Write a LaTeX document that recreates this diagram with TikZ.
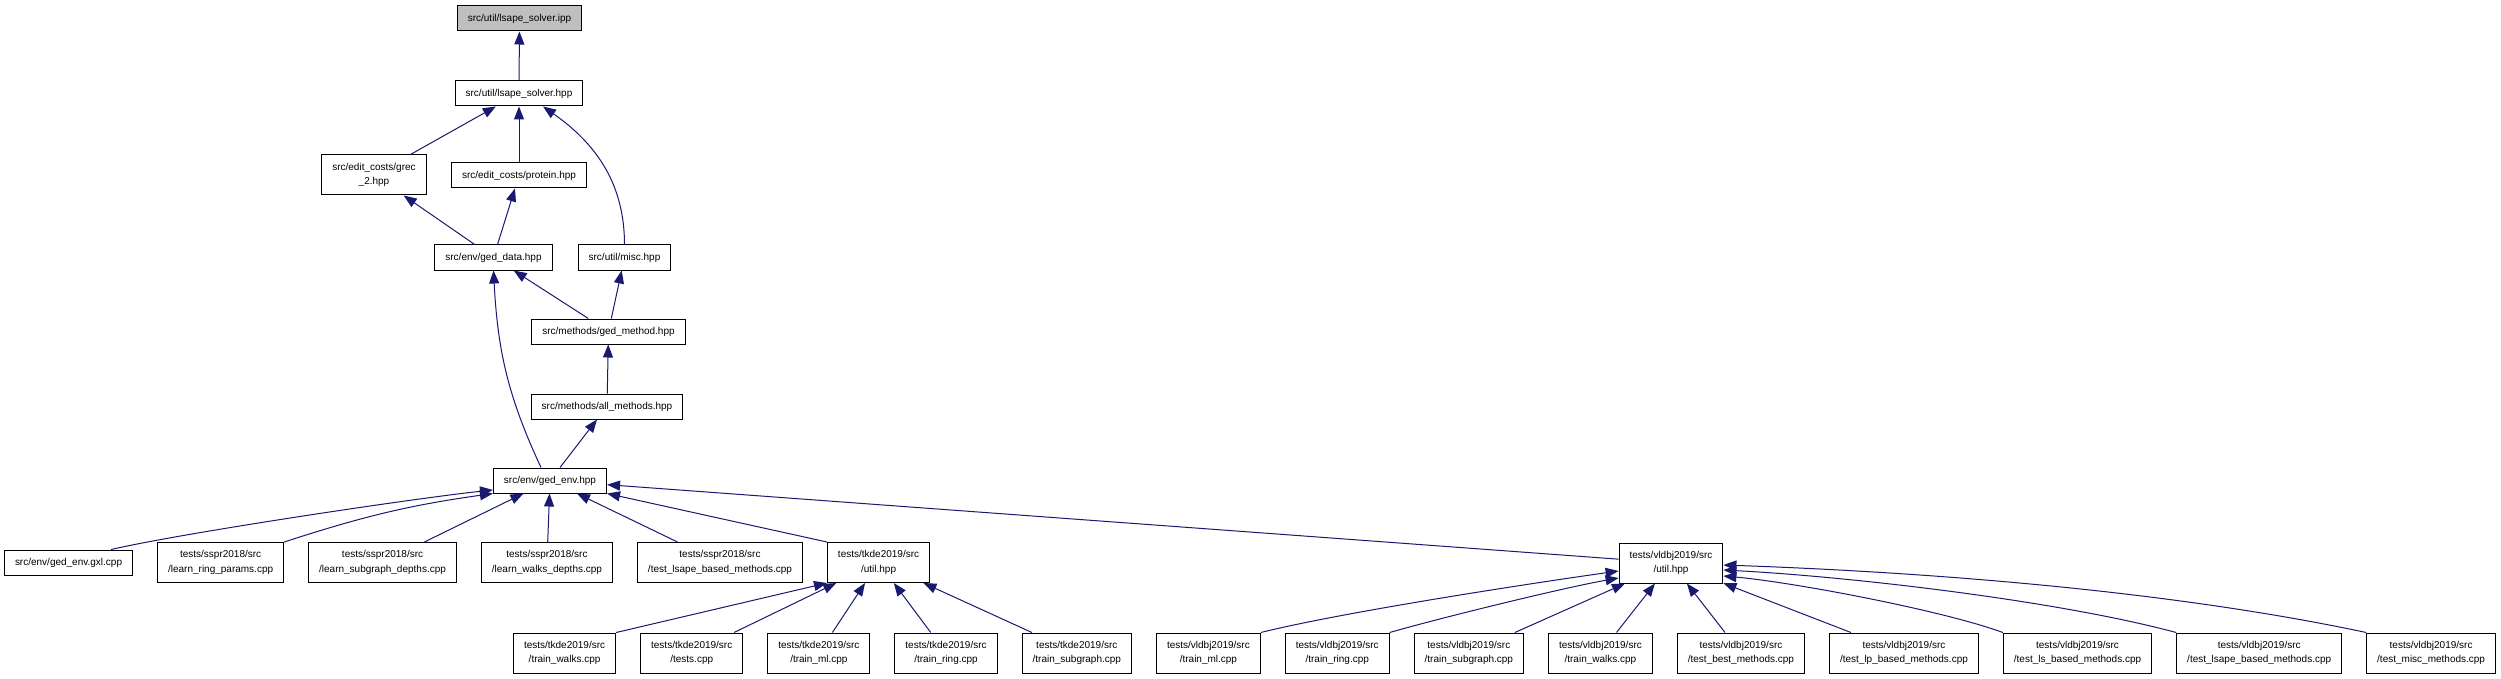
\documentclass[tikz,border=0pt]{standalone}
\usepackage{fontspec}
\newfontfamily\dotfont{Liberation Sans}
\usepackage{tikz}
\usetikzlibrary{arrows.meta,positioning}
\definecolor{edgeblue}{HTML}{191970}
\definecolor{rootgray}{HTML}{BFBFBF}

\begin{document}
\begin{tikzpicture}[
  x=1pt, y=1pt,
  file/.style={draw=black, line width=1pt, fill=white, align=center,
    font={\dotfont\fontsize{10pt}{14.5pt}\selectfont},
    inner xsep=10.5pt, inner ysep=2pt, minimum height=25pt},
  file2/.style={file, minimum height=40pt},
  dep/.style={-{Triangle[length=13pt, width=10pt]}, line width=1pt, edgeblue}
]
\fill[white] (0,0) rectangle (2501,-679);
\useasboundingbox (0,0) rectangle (2501,-679);

\node[file, fill=rootgray] (ipp) at (519.5,-18.5) {src/util/lsape\_solver.ipp};
\node[file] (solverhpp) at (519,-93.5) {src/util/lsape\_solver.hpp};
\node[file2] (grec) at (374,-175) {src/edit\_costs/grec\\\_2.hpp};
\node[file] (protein) at (519,-175.5) {src/edit\_costs/protein.hpp};
\node[file] (geddata) at (493.5,-257.5) {src/env/ged\_data.hpp};
\node[file] (misc) at (624.5,-257.5) {src/util/misc.hpp};
\node[file] (gedmethod) at (608.5,-331.5) {src/methods/ged\_method.hpp};
\node[file] (allmethods) at (607,-406.5) {src/methods/all\_methods.hpp};
\node[file] (gedenv) at (550,-480.5) {src/env/ged\_env.hpp};

\node[file, anchor=west] (gxl) at (4,-562.5) {src/env/ged\_env.gxl.cpp};
\node[file2, right=24pt of gxl] (ringparams) {tests/sspr2018/src\\/learn\_ring\_params.cpp};
\node[file2, right=24pt of ringparams] (subgraphdepths) {tests/sspr2018/src\\/learn\_subgraph\_depths.cpp};
\node[file2, right=24pt of subgraphdepths] (walksdepths) {tests/sspr2018/src\\/learn\_walks\_depths.cpp};
\node[file2, right=24pt of walksdepths] (ssprlsape) {tests/sspr2018/src\\/test\_lsape\_based\_methods.cpp};
\node[file2, right=24pt of ssprlsape] (tkdeutil) {tests/tkde2019/src\\/util.hpp};
\node[file2] (vldbjutil) at (1671,-563) {tests/vldbj2019/src\\/util.hpp};

\node[file2, anchor=west] (tkwalks) at (513,-653) {tests/tkde2019/src\\/train\_walks.cpp};
\node[file2, right=24pt of tkwalks] (tktests) {tests/tkde2019/src\\/tests.cpp};
\node[file2, right=24pt of tktests] (tkml) {tests/tkde2019/src\\/train\_ml.cpp};
\node[file2, right=24pt of tkml] (tkring) {tests/tkde2019/src\\/train\_ring.cpp};
\node[file2, right=24pt of tkring] (tksubgraph) {tests/tkde2019/src\\/train\_subgraph.cpp};
\node[file2, right=24pt of tksubgraph] (vlml) {tests/vldbj2019/src\\/train\_ml.cpp};
\node[file2, right=24pt of vlml] (vlring) {tests/vldbj2019/src\\/train\_ring.cpp};
\node[file2, right=24pt of vlring] (vlsubgraph) {tests/vldbj2019/src\\/train\_subgraph.cpp};
\node[file2, right=24pt of vlsubgraph] (vlwalks) {tests/vldbj2019/src\\/train\_walks.cpp};
\node[file2, right=24pt of vlwalks] (vlbest) {tests/vldbj2019/src\\/test\_best\_methods.cpp};
\node[file2, right=24pt of vlbest] (vllp) {tests/vldbj2019/src\\/test\_lp\_based\_methods.cpp};
\node[file2, right=24pt of vllp] (vlls) {tests/vldbj2019/src\\/test\_ls\_based\_methods.cpp};
\node[file2, right=24pt of vlls] (vllsape) {tests/vldbj2019/src\\/test\_lsape\_based\_methods.cpp};
\node[file2, right=24pt of vllsape] (vlmisc) {tests/vldbj2019/src\\/test\_misc\_methods.cpp};

\draw[dep] (solverhpp) -- (ipp);
\draw[dep] (grec) -- (solverhpp);
\draw[dep] (protein) -- (solverhpp);
\draw[dep] (misc.north) to[out=90, in=-35] ([xshift=24pt]solverhpp.south);
\draw[dep] (geddata) -- (grec);
\draw[dep] (geddata) -- (protein);
\draw[dep] (gedmethod) -- (geddata);
\draw[dep] (gedmethod) -- (misc);
\draw[dep] (allmethods) -- (gedmethod);
\draw[dep] (gedenv) -- (allmethods);
\draw[dep] ([xshift=-9pt]gedenv.north) to[out=115, in=-87] (geddata.south);

\draw[dep] ([xshift=-22pt]gxl.north east) to[out=13, in=186, looseness=0.5] ([yshift=-9.5pt]gedenv.west);
\draw[dep] (ringparams.north east) to[out=18, in=188] (gedenv.south west);
\draw[dep] (subgraphdepths) -- (gedenv);
\draw[dep] (walksdepths) -- (gedenv);
\draw[dep] (ssprlsape) -- (gedenv);
\draw[dep] (tkdeutil.north west) -- (gedenv.south east);
\draw[dep] (vldbjutil) -- (gedenv);

\draw[dep] (tkwalks.north east) -- (tkdeutil.south west);
\draw[dep] (tktests) -- (tkdeutil);
\draw[dep] (tkml) -- (tkdeutil);
\draw[dep] (tkring) -- (tkdeutil);
\draw[dep] (tksubgraph) -- (tkdeutil);

\draw[dep] (vlml.north east) to[out=14, in=188, looseness=0.6] ([yshift=-8pt]vldbjutil.west);
\draw[dep] (vlring.north east) to[out=16, in=190, looseness=0.6] ([yshift=-15pt]vldbjutil.west);
\draw[dep] (vlsubgraph) -- (vldbjutil);
\draw[dep] (vlwalks) -- (vldbjutil);
\draw[dep] (vlbest) -- (vldbjutil);
\draw[dep] (vllp) -- (vldbjutil);
\draw[dep] (vlls.north west) to[out=160, in=-5, looseness=0.6] ([yshift=-13pt]vldbjutil.east);
\draw[dep] (vllsape.north west) to[out=165, in=-3, looseness=0.7] ([yshift=-7pt]vldbjutil.east);
\draw[dep] (vlmisc.north west) to[out=168, in=-2, looseness=0.8] ([yshift=-2pt]vldbjutil.east);
\end{tikzpicture}
\end{document}
